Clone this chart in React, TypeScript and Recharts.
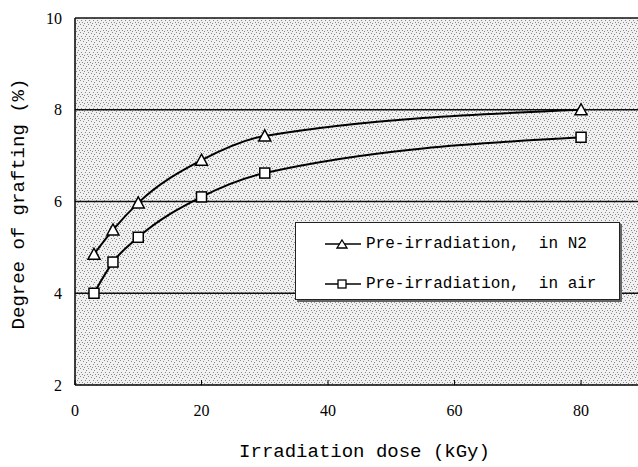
import React from "react";
import {
	LineChart,
	Line,
	XAxis,
	YAxis,
	CartesianGrid,
	ReferenceLine,
	Legend,
} from "recharts";

const doses = [3, 6, 10, 20, 30, 80];
const graftN2 = [4.85, 5.38, 5.97, 6.9, 7.43, 8.0];
const graftAir = [4.0, 4.68, 5.22, 6.1, 6.62, 7.4];
const seriesNames = ["Pre-irradiation,  in N2", "Pre-irradiation,  in air"];
const xTicks = [0, 20, 40, 60, 80];
const yTicks = [2, 4, 6, 8, 10];
const gridLines = [4, 6, 8, 10];

const chartData = doses.map((d, i) => ({
	dose: d,
	n2: graftN2[i],
	air: graftAir[i],
}));

const MONO = "'Liberation Mono', monospace";
const SERIF = "'Liberation Serif', serif";

// scattered dark pixels for the speckled background
const speckles = [
	[0, 0], [3, 1], [6, 2], [1, 4], [5, 4], [2, 6], [7, 6], [4, 7],
];

const Triangle = (props: any) => {
	const { cx, cy } = props;
	if (cx == null || cy == null) return null;
	return (
		<path
			d={`M${cx},${cy - 6} L${cx + 6},${cy + 5} L${cx - 6},${cy + 5} Z`}
			fill="#fff"
			stroke="#000"
			strokeWidth={1.5}
		/>
	);
};

const Square = (props: any) => {
	const { cx, cy } = props;
	if (cx == null || cy == null) return null;
	return (
		<rect
			x={cx - 5}
			y={cy - 5}
			width={10}
			height={10}
			fill="#fff"
			stroke="#000"
			strokeWidth={1.5}
		/>
	);
};

const XTick = (props: any) => {
	const { x, y, payload } = props;
	return (
		<g>
			<line x1={x} x2={x} y1={385} y2={380} stroke="#000" />
			<text
				x={x}
				y={y}
				dy="0.71em"
				textAnchor="middle"
				style={{ fontFamily: SERIF, fontSize: 16 }}
				fill="#000"
			>
				{payload.value}
			</text>
		</g>
	);
};

const YTick = (props: any) => {
	const { x, y, payload } = props;
	return (
		<text
			x={x}
			y={y}
			dy="0.355em"
			textAnchor="end"
			style={{ fontFamily: SERIF, fontSize: 16 }}
			fill="#000"
		>
			{payload.value}
		</text>
	);
};

const LegendBox = () => {
	const markers = [
		<path key="t" d="M17,2 L22,10 L12,10 Z" fill="#fff" stroke="#000" strokeWidth={1.3} />,
		<rect key="s" x={13} y={2} width={8} height={8} fill="#fff" stroke="#000" strokeWidth={1.3} />,
	];
	return (
		<div
			style={{
				width: 325,
				height: 78,
				boxSizing: "border-box",
				background: "#fff",
				border: "1px solid #222",
				boxShadow: "2px 2px 0 #666",
				paddingLeft: 29,
				paddingTop: 11,
			}}
		>
			{seriesNames.map((name, i) => (
				<div
					key={name}
					style={{
						display: "flex",
						alignItems: "center",
						height: 20,
						marginBottom: i === 0 ? 20 : 0,
					}}
				>
					<svg width={36} height={12} style={{ marginRight: 5 }}>
						<line x1={0} x2={36} y1={6} y2={6} stroke="#000" strokeWidth={1.5} />
						{markers[i]}
					</svg>
					<span
						style={{
							fontFamily: MONO,
							fontSize: 16,
							whiteSpace: "pre",
							color: "#000",
						}}
					>
						{name}
					</span>
				</div>
			))}
		</div>
	);
};

export default function App() {
	return (
		<div style={{ position: "absolute", left: 0, top: 0 }}>
			<LineChart
				width={638}
				height={467}
				data={chartData}
				margin={{ top: 18, right: 0, left: 0, bottom: 0 }}
				style={{ background: "#fff" }}
			>
				<defs>
					<pattern id="speckle" width={8} height={8} patternUnits="userSpaceOnUse">
						<rect width={8} height={8} fill="#f0f0f0" />
						{speckles.map(([px, py], i) => (
							<rect key={i} x={px} y={py} width={1} height={1} fill="#8a8a8a" />
						))}
					</pattern>
				</defs>
				<CartesianGrid
					horizontal={false}
					vertical={false}
					fill="url(#speckle)"
					fillOpacity={1}
				/>
				<XAxis
					dataKey="dose"
					type="number"
					domain={[0, 89]}
					ticks={xTicks}
					allowDataOverflow
					height={82}
					tickSize={0}
					tickMargin={20}
					tick={<XTick />}
					axisLine={{ stroke: "#000", strokeWidth: 1.5 }}
					label={{
						value: "Irradiation dose (kGy)",
						position: "insideBottom",
						offset: 10,
						dx: 8,
						fontFamily: MONO,
						fontSize: 19,
						fill: "#000",
					}}
				/>
				<YAxis
					type="number"
					domain={[2, 10]}
					ticks={yTicks}
					width={75}
					tickSize={0}
					tickMargin={13}
					tick={<YTick />}
					axisLine={{ stroke: "#000", strokeWidth: 1.5 }}
					label={{
						content: () => (
							<text
								x={19}
								y={204}
								transform="rotate(-90, 19, 204)"
								textAnchor="middle"
								dominantBaseline="central"
								fontFamily={MONO}
								fontSize={19}
								fill="#000"
							>
								Degree of grafting (%)
							</text>
						),
					}}
				/>
				{gridLines.map((v) => (
					<ReferenceLine key={v} y={v} stroke="#111" strokeWidth={1.3} />
				))}
				<Legend
					layout="vertical"
					align="center"
					verticalAlign="middle"
					wrapperStyle={{ left: 295, top: 222, width: 327 }}
					content={<LegendBox />}
				/>
				<Line
					type="monotone"
					dataKey="n2"
					name={seriesNames[0]}
					stroke="#000"
					strokeWidth={2}
					dot={<Triangle />}
					activeDot={false}
					isAnimationActive={false}
				/>
				<Line
					type="monotone"
					dataKey="air"
					name={seriesNames[1]}
					stroke="#000"
					strokeWidth={2}
					dot={<Square />}
					activeDot={false}
					isAnimationActive={false}
				/>
			</LineChart>
		</div>
	);
}
